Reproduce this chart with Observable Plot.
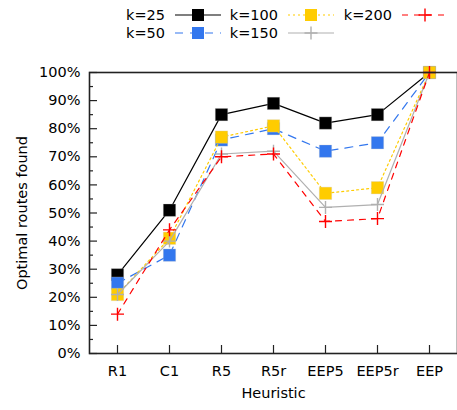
<!DOCTYPE html>
<html>
<head>
<meta charset="utf-8">
<script src="https://cdn.jsdelivr.net/npm/d3@7"></script>
<script src="https://cdn.jsdelivr.net/npm/@observablehq/plot@0.6"></script>
<style>
  html, body { margin: 0; padding: 0; background: #fff; overflow: hidden; }
  body { width: 457px; height: 410px; position: relative; font-family: "DejaVu Sans", sans-serif; }
  #chart { position: absolute; left: 0; top: 0; }
  #legend { position: absolute; left: 0; top: 0; width: 457px; height: 50px; font-size: 14.5px; }
  .item { position: absolute; display: flex; align-items: center; height: 16px; white-space: nowrap; }
  .item span { display: inline-block; text-align: right; width: 70px; margin-right: 9px; color: #000; }
</style>
</head>
<body>
<div id="chart"></div>
<div id="legend"></div>
<script>
const heuristics = ["R1", "C1", "R5", "R5r", "EEP5", "EEP5r", "EEP"];
const seriesNames = ["k=25", "k=50", "k=100", "k=150", "k=200"];
const k25  = [28, 51, 85, 89, 82, 85, 100];
const k50  = [25, 35, 76, 80, 72, 75, 100];
const k100 = [21, 41, 77, 81, 57, 59, 100];
const k150 = [21, 40, 71, 72, 52, 53, 100];
const k200 = [14, 44, 70, 71, 47, 48, 100];
const yTicks = [0, 10, 20, 30, 40, 50, 60, 70, 80, 90, 100];
const yMinorTicks = [5, 15, 25, 35, 45, 55, 65, 75, 85, 95];

const styles = [
  {color: "#000000", dash: null, symbol: "square"},
  {color: "#3377ee", dash: "8,7", symbol: "square"},
  {color: "#ffcc00", dash: "2,3", symbol: "square"},
  {color: "#b0b0b0", dash: null, symbol: "plus"},
  {color: "#ff0000", dash: "6,6", symbol: "plus"}
];
const values = [k25, k50, k100, k150, k200];
const series = seriesNames.map((name, i) => ({
  name, style: styles[i],
  data: heuristics.map((h, j) => ({h, v: values[i][j]}))
}));

const plusSymbol = {
  draw(ctx, size) {
    const r = Math.sqrt(size / Math.PI);
    ctx.moveTo(-r, 0); ctx.lineTo(r, 0);
    ctx.moveTo(0, -r); ctx.lineTo(0, r);
  }
};

const W = 457, H = 410, mL = 89, mR = 0, mT = 72, mB = 57;
const pw = W - mL - mR, ph = H - mT - mB;
const FS = 14.5;

const marks = [];
for (const s of series) {
  marks.push(Plot.line(s.data, {x: "h", y: "v", stroke: s.style.color, strokeWidth: 1.2,
    strokeDasharray: s.style.dash}));
  if (s.style.symbol === "square") {
    marks.push(Plot.dot(s.data, {x: "h", y: "v", symbol: "square", r: 7, fill: s.style.color,
      stroke: "#cccccc", strokeWidth: 0.5, strokeOpacity: 0.6}));
  } else {
    marks.push(Plot.dot(s.data, {x: "h", y: "v", symbol: plusSymbol, r: 6.5, fill: "none",
      stroke: s.style.color, strokeWidth: 1.4}));
  }
}

const chart = Plot.plot({
  width: W, height: H,
  marginLeft: mL, marginRight: mR, marginTop: mT, marginBottom: mB,
  style: {fontFamily: "DejaVu Sans, sans-serif", fontSize: FS + "px", background: "white", overflow: "visible"},
  x: {type: "point", domain: heuristics, padding: 0.5},
  y: {domain: [0, 100]},
  marks: [
    Plot.tickY(yTicks, {y: d => d, insetRight: pw - 8, stroke: "#222", strokeWidth: 1.2}),
    Plot.tickY(yMinorTicks, {y: d => d, insetRight: pw - 4, stroke: "#222", strokeWidth: 1.2}),
    Plot.tickX(heuristics, {x: d => d, insetTop: ph - 8, stroke: "#222", strokeWidth: 1.2}),
    Plot.axisY(yTicks, {tickSize: 0, tickPadding: 9, tickFormat: d => d + "%", label: null, fill: "#000", fontSize: FS}),
    Plot.axisX({tickSize: 0, tickPadding: 12, label: null, fill: "#000", fontSize: FS}),
    Plot.text(["Optimal routes found"], {frameAnchor: "left", dx: -67, rotate: -90, textAnchor: "middle", fill: "#000", fontSize: FS}),
    Plot.text(["Heuristic"], {frameAnchor: "bottom", dy: 44, textAnchor: "middle", fill: "#000", fontSize: FS}),
    ...marks,
    Plot.frame({stroke: "#222", strokeWidth: 1.6})
  ]
});
document.getElementById("chart").appendChild(chart);

// Legend (text right edge, row centre)
const legend = document.getElementById("legend");
const legendPos = [
  {textEnd: 165, cy: 15}, {textEnd: 165, cy: 33},
  {textEnd: 278, cy: 15}, {textEnd: 278, cy: 33},
  {textEnd: 392, cy: 15}
];
series.forEach((s, i) => {
  const div = document.createElement("div");
  div.className = "item";
  div.style.left = (legendPos[i].textEnd - 70) + "px";
  div.style.top = (legendPos[i].cy - 8) + "px";
  const label = document.createElement("span");
  label.textContent = s.name;
  div.appendChild(label);
  const ns = "http://www.w3.org/2000/svg";
  const svg = document.createElementNS(ns, "svg");
  svg.setAttribute("width", "48"); svg.setAttribute("height", "16");
  const line = document.createElementNS(ns, "line");
  line.setAttribute("x1", "1"); line.setAttribute("x2", "47");
  line.setAttribute("y1", "8"); line.setAttribute("y2", "8");
  line.setAttribute("stroke", s.style.color); line.setAttribute("stroke-width", "1.2");
  if (s.style.dash) line.setAttribute("stroke-dasharray", s.style.dash);
  svg.appendChild(line);
  if (s.style.symbol === "square") {
    const r = document.createElementNS(ns, "rect");
    r.setAttribute("x", "18"); r.setAttribute("y", "2"); r.setAttribute("width", "12"); r.setAttribute("height", "12");
    r.setAttribute("fill", s.style.color);
    svg.appendChild(r);
  } else {
    const p = document.createElementNS(ns, "path");
    p.setAttribute("d", "M17.5,8H30.5M24,1.5V14.5");
    p.setAttribute("stroke", s.style.color); p.setAttribute("stroke-width", "1.4"); p.setAttribute("fill", "none");
    svg.appendChild(p);
  }
  div.appendChild(svg);
  legend.appendChild(div);
});
</script>
</body>
</html>
